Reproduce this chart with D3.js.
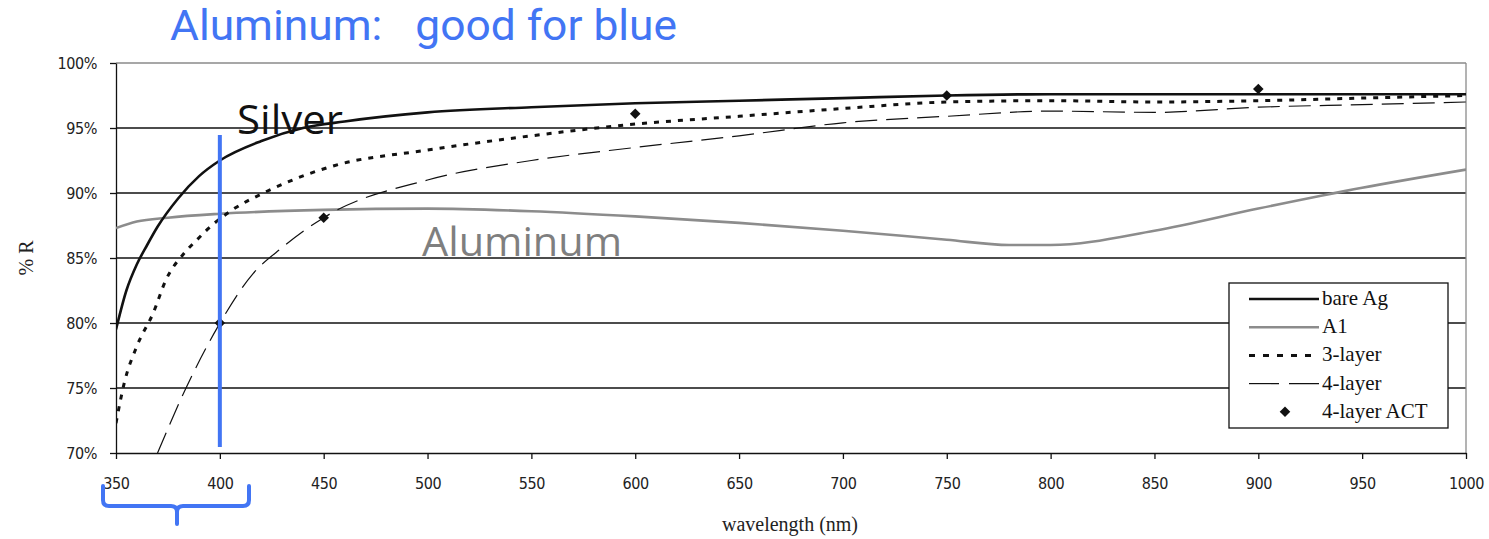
<!DOCTYPE html>
<html>
<head>
<meta charset="utf-8">
<script src="https://cdn.jsdelivr.net/npm/d3@7"></script>
<style>
  body { margin: 0; background: #fff; }
  svg { display: block; }
</style>
</head>
<body>
<div id="chart"></div>
<script>
// reflectance data (wavelength nm, % R)
const wl_ag = [350, 355, 360, 365, 370, 380, 390, 400, 420, 440, 460, 500, 550, 600, 650, 700, 750, 800, 850, 900, 950, 1000];
const r_ag = [79.5, 82.5, 84.5, 86.0, 87.4, 89.6, 91.3, 92.5, 94.0, 95.0, 95.5, 96.2, 96.6, 96.9, 97.1, 97.3, 97.5, 97.6, 97.6, 97.6, 97.6, 97.6];

const wl_al = [350, 360, 375, 400, 450, 500, 550, 600, 650, 700, 750, 780, 800, 850, 900, 950, 1000];
const r_al = [87.3, 87.8, 88.1, 88.4, 88.7, 88.8, 88.6, 88.2, 87.7, 87.1, 86.4, 86.0, 86.0, 87.1, 88.8, 90.4, 91.8];

const wl_3 = [350, 354, 360, 368, 374, 383, 389, 394, 406, 421, 435, 455, 500, 550, 600, 650, 700, 750, 800, 850, 900, 950, 1000];
const r_3 = [72.3, 75.4, 78.2, 80.8, 83.3, 85.4, 86.4, 87.2, 88.7, 90.0, 91.0, 92.1, 93.3, 94.4, 95.3, 95.9, 96.5, 97.0, 97.1, 97.0, 97.1, 97.3, 97.5];

const wl_4 = [370, 384, 399, 416, 430, 451, 500, 550, 600, 650, 700, 750, 800, 850, 900, 950, 1000];
const r_4 = [70.0, 75.1, 79.7, 83.8, 85.8, 88.2, 91.0, 92.5, 93.5, 94.4, 95.4, 95.9, 96.3, 96.2, 96.6, 96.8, 97.0];

const wl_act = [400, 450, 600, 750, 900];
const r_act = [80.0, 88.1, 96.1, 97.5, 98.0];

const x_ticks = [350, 400, 450, 500, 550, 600, 650, 700, 750, 800, 850, 900, 950, 1000];
const y_ticks = [70, 75, 80, 85, 90, 95, 100];
const legend_labels = ["bare Ag", "A1", "3-layer", "4-layer", "4-layer ACT"];

const W = 1489, H = 539;
const plot = {left: 116, right: 1466, top: 63, bottom: 453};

const svg = d3.select("#chart").append("svg")
    .attr("width", W)
    .attr("height", H);

const x = d3.scaleLinear().domain([350, 1000]).range([plot.left, plot.right]);
const y = d3.scaleLinear().domain([70, 100]).range([plot.bottom, plot.top]);

const tickFont = "'DejaVu Sans Condensed', 'DejaVu Sans', sans-serif";
const serif = "'Liberation Serif', 'DejaVu Serif', serif";
const sans = "'Open Sans', 'Noto Sans', sans-serif";

// gridlines
svg.append("g")
    .selectAll("line")
    .data(y_ticks.filter(d => d > 70))
    .enter().append("line")
    .attr("x1", plot.left)
    .attr("x2", plot.right)
    .attr("y1", d => y(d))
    .attr("y2", d => y(d))
    .attr("stroke", d => d == 100 ? "#8a8a8a" : "#111")
    .attr("stroke-width", 1.3);

// right plot border (gray)
svg.append("line")
    .attr("x1", plot.right).attr("x2", plot.right)
    .attr("y1", plot.top).attr("y2", plot.bottom)
    .attr("stroke", "#8a8a8a").attr("stroke-width", 1.3);

// axes
const xAxis = svg.append("g")
    .attr("transform", "translate(0," + plot.bottom + ")")
    .call(d3.axisBottom(x).tickValues(x_ticks).tickSize(6).tickSizeOuter(0).tickPadding(19)
        .tickFormat(d3.format("d")));
const yAxis = svg.append("g")
    .attr("transform", "translate(" + plot.left + ",0)")
    .call(d3.axisLeft(y).tickValues(y_ticks).tickSize(6).tickSizeOuter(0).tickPadding(13)
        .tickFormat(d => d + "%"));

[xAxis, yAxis].forEach(a => {
    a.select(".domain").attr("stroke", "#111").attr("stroke-width", 1.3);
    a.selectAll(".tick line").attr("stroke", "#111").attr("stroke-width", 1.3);
    a.selectAll("text")
        .attr("fill", "#222")
        .style("font-family", tickFont)
        .style("font-size", "16px")
        .style("letter-spacing", "-0.4px");
});

// axis titles
svg.append("text")
    .attr("x", 790)
    .attr("y", 531)
    .attr("text-anchor", "middle")
    .style("font-family", serif)
    .style("font-size", "20px")
    .attr("fill", "#222")
    .text("wavelength (nm)");

svg.append("text")
    .attr("transform", "translate(33," + (plot.top + plot.bottom) / 2 + ") rotate(-90)")
    .attr("text-anchor", "middle")
    .style("font-family", serif)
    .style("font-size", "20px")
    .attr("fill", "#222")
    .text("% R");

// series
svg.append("clipPath").attr("id", "clip")
    .append("rect")
    .attr("x", plot.left).attr("y", plot.top)
    .attr("width", plot.right - plot.left).attr("height", plot.bottom - plot.top);

const line = d3.line()
    .x(d => x(d[0]))
    .y(d => y(d[1]))
    .curve(d3.curveMonotoneX);

const series = [
    {wl: wl_al, r: r_al, color: "#8c8c8c", width: 2.6, dash: null},
    {wl: wl_4, r: r_4, color: "#111", width: 1.2, dash: "22,9"},
    {wl: wl_3, r: r_3, color: "#111", width: 3, dash: "5,7"},
    {wl: wl_ag, r: r_ag, color: "#111", width: 2.6, dash: null}
];

svg.append("g").attr("clip-path", "url(#clip)")
    .selectAll("path")
    .data(series)
    .enter().append("path")
    .attr("d", d => line(d.wl.map((w, i) => [w, d.r[i]])))
    .attr("fill", "none")
    .attr("stroke", d => d.color)
    .attr("stroke-width", d => d.width)
    .attr("stroke-dasharray", d => d.dash);

// square turned 45 degrees, like the Excel diamond marker
const diamond = d3.symbol().type(d3.symbolSquare).size(56);
svg.append("g")
    .selectAll("path")
    .data(wl_act.map((w, i) => [w, r_act[i]]))
    .enter().append("path")
    .attr("d", diamond)
    .attr("transform", d => "translate(" + x(d[0]) + "," + y(d[1]) + ") rotate(45)")
    .attr("fill", "#111");

// legend
const lg = svg.append("g").attr("transform", "translate(1229,283)");
lg.append("rect")
    .attr("width", 219).attr("height", 145)
    .attr("fill", "#fff").attr("stroke", "#111").attr("stroke-width", 1.3);

const legend_style = [
    {color: "#111", width: 2.6, dash: null},
    {color: "#8c8c8c", width: 2.6, dash: null},
    {color: "#111", width: 3, dash: "6,8"},
    {color: "#111", width: 1.2, dash: "30,10"},
    null
];
legend_labels.forEach((lab, i) => {
    const ly = 16 + i * 28.2;
    const st = legend_style[i];
    if (st) {
        lg.append("line")
            .attr("x1", 20).attr("x2", 90)
            .attr("y1", ly).attr("y2", ly)
            .attr("stroke", st.color)
            .attr("stroke-width", st.width)
            .attr("stroke-dasharray", st.dash);
    } else {
        lg.append("path")
            .attr("d", diamond)
            .attr("transform", "translate(56," + ly + ") rotate(45)")
            .attr("fill", "#111");
    }
    lg.append("text")
        .attr("x", 93)
        .attr("y", ly + 6)
        .style("font-family", serif)
        .style("font-size", "21px")
        .attr("fill", "#111")
        .text(lab);
});

// annotations drawn on top of the chart
const blue = "#4275f4";
svg.append("text")
    .attr("x", 170).attr("y", 40)
    .style("font-family", "Roboto, 'Open Sans', sans-serif")
    .style("font-size", "42px")
    .attr("fill", blue)
    .attr("textLength", 507)
    .attr("lengthAdjust", "spacingAndGlyphs")
    .attr("xml:space", "preserve")
    .text("Aluminum:   good for blue");

svg.append("text")
    .attr("x", 237).attr("y", 134)
    .style("font-family", sans)
    .style("font-size", "40px")
    .attr("fill", "#111")
    .attr("textLength", 106)
    .attr("lengthAdjust", "spacingAndGlyphs")
    .text("Silver");

svg.append("text")
    .attr("x", 422).attr("y", 256)
    .style("font-family", sans)
    .style("font-size", "40px")
    .attr("fill", "#7f7f7f")
    .attr("textLength", 200)
    .attr("lengthAdjust", "spacingAndGlyphs")
    .text("Aluminum");

svg.append("line")
    .attr("x1", x(400)).attr("x2", x(400))
    .attr("y1", 135).attr("y2", 447)
    .attr("stroke", blue).attr("stroke-width", 4);

// bracket under 350-400
svg.append("path")
    .attr("d", "M103,486 L103,500 Q103,506 109,506 L171,506 Q177,506 177,512 L177,524 M177,512 Q177,506 183,506 L243,506 Q249,506 249,500 L249,486")
    .attr("fill", "none")
    .attr("stroke", blue)
    .attr("stroke-width", 4)
    .attr("stroke-linecap", "round");
</script>
</body>
</html>
